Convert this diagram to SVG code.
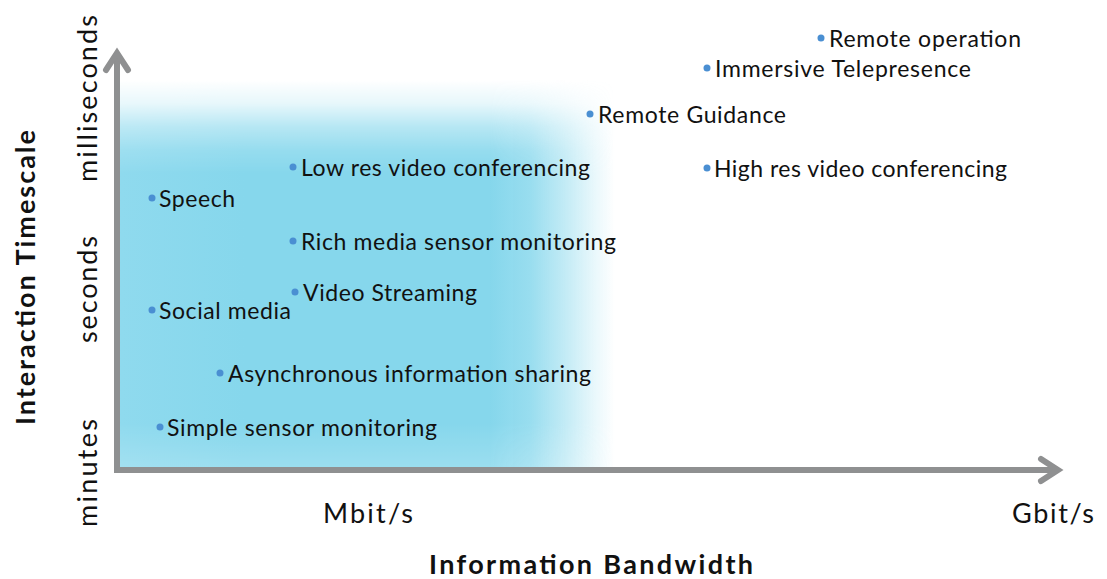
<svg xmlns="http://www.w3.org/2000/svg" width="1107" height="579" viewBox="0 0 1107 579">
  <style>
    .lbl { font-family: Lato, "Liberation Sans", sans-serif; font-size: 23px; fill: #111; }
    .tick { font-family: Lato, "Liberation Sans", sans-serif; font-size: 27px; fill: #111; }
    .title { font-family: Lato, "Liberation Sans", sans-serif; font-size: 27px; font-weight: bold; fill: #111; }
    .dot { fill: #4a8fd2; }
    .axis { stroke: #8f9091; stroke-width: 6; fill: none; stroke-linecap: butt; }
    .head { stroke: #8f9091; stroke-width: 6; fill: none; stroke-linecap: round; stroke-linejoin: miter; }
  </style>
  <defs>
    <!-- horizontal fade towards the right edge of the shaded band -->
    <linearGradient id="fadeRight" x1="120" y1="0" x2="620" y2="0" gradientUnits="userSpaceOnUse">
      <stop offset="0" stop-color="#8fdaee"/>
      <stop offset="0.25" stop-color="#86d7ec"/>
      <stop offset="0.74" stop-color="#86d7ec"/>
      <stop offset="0.82" stop-color="#86d7ec" stop-opacity="0.85"/>
      <stop offset="0.89" stop-color="#86d7ec" stop-opacity="0.5"/>
      <stop offset="0.95" stop-color="#86d7ec" stop-opacity="0.18"/>
      <stop offset="0.99" stop-color="#86d7ec" stop-opacity="0"/>
    </linearGradient>
    <!-- vertical fade towards the top, slight lightening at the bottom -->
    <linearGradient id="fadeTop" x1="0" y1="80" x2="0" y2="470" gradientUnits="userSpaceOnUse">
      <stop offset="0" stop-color="#000"/>
      <stop offset="0.06" stop-color="#333"/>
      <stop offset="0.12" stop-color="#999"/>
      <stop offset="0.18" stop-color="#ddd"/>
      <stop offset="0.24" stop-color="#fff"/>
      <stop offset="0.88" stop-color="#fff"/>
      <stop offset="1" stop-color="#d0d0d0"/>
    </linearGradient>
    <mask id="bandMask" maskUnits="userSpaceOnUse" x="0" y="0" width="1107" height="579">
      <rect x="0" y="0" width="1107" height="579" fill="url(#fadeTop)"/>
    </mask>
  </defs>

  <rect id="band" x="120" y="80" width="500" height="390" fill="url(#fadeRight)" mask="url(#bandMask)"/>

  <g id="axes">
    <line class="axis" x1="117" y1="473" x2="117" y2="54"/>
    <polyline class="head" points="106,70 117,53 128,70"/>
    <line class="axis" x1="114" y1="470" x2="1056" y2="470"/>
    <polyline class="head" points="1041,459 1058,470 1041,481"/>
  </g>

  <g id="n-remote-operation"><circle class="dot" cx="821" cy="38" r="3.5"/><text class="lbl" x="829" y="47" textLength="192">Remote operation</text></g>
  <g id="n-immersive"><circle class="dot" cx="707" cy="68" r="3.5"/><text class="lbl" x="715" y="77" textLength="256">Immersive Telepresence</text></g>
  <g id="n-remote-guidance"><circle class="dot" cx="590" cy="114" r="3.5"/><text class="lbl" x="598" y="123" textLength="188">Remote Guidance</text></g>
  <g id="n-lowres"><circle class="dot" cx="293" cy="167" r="3.5"/><text class="lbl" x="301" y="176" textLength="289">Low res video conferencing</text></g>
  <g id="n-highres"><circle class="dot" cx="707" cy="168" r="3.5"/><text class="lbl" x="714" y="177" textLength="293">High res video conferencing</text></g>
  <g id="n-speech"><circle class="dot" cx="152" cy="198" r="3.5"/><text class="lbl" x="159" y="207" textLength="76">Speech</text></g>
  <g id="n-richmedia"><circle class="dot" cx="293" cy="241" r="3.5"/><text class="lbl" x="301" y="250" textLength="315">Rich media sensor monitoring</text></g>
  <g id="n-videostreaming"><circle class="dot" cx="295" cy="292" r="3.5"/><text class="lbl" x="303" y="301" textLength="174">Video Streaming</text></g>
  <g id="n-socialmedia"><circle class="dot" cx="152" cy="310" r="3.5"/><text class="lbl" x="159" y="319" textLength="132">Social media</text></g>
  <g id="n-async"><circle class="dot" cx="220" cy="373" r="3.5"/><text class="lbl" x="228" y="382" textLength="363">Asynchronous information sharing</text></g>
  <g id="n-simplesensor"><circle class="dot" cx="160" cy="427" r="3.5"/><text class="lbl" x="167" y="436" textLength="270">Simple sensor monitoring</text></g>

  <g id="x-axis-labels">
    <text class="tick" x="323" y="523" textLength="90">Mbit/s</text>
    <text class="tick" x="1012" y="523" textLength="82">Gbit/s</text>
    <text class="title" x="429" y="574" textLength="324">Information Bandwidth</text>
  </g>

  <g id="y-axis-labels">
    <text class="tick" transform="translate(97,527) rotate(-90)" x="0" y="0" textLength="108">minutes</text>
    <text class="tick" transform="translate(97,343) rotate(-90)" x="0" y="0" textLength="107">seconds</text>
    <text class="tick" transform="translate(97,182) rotate(-90)" x="0" y="0" textLength="167">milliseconds</text>
    <text class="title" transform="translate(35,425) rotate(-90)" x="0" y="0" textLength="295">Interaction Timescale</text>
  </g>
</svg>
